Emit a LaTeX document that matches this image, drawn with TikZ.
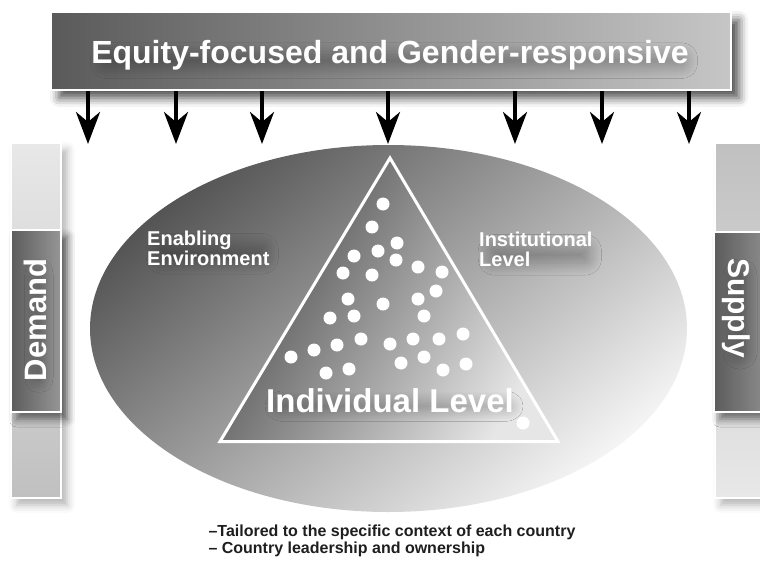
\documentclass[tikz,border=0pt]{standalone}
\usepackage{fontspec}
\setmainfont{Liberation Sans}
\usetikzlibrary{arrows.meta,shadows.blur}

\definecolor{bandark}{HTML}{5A5A5A}
\definecolor{banlight}{HTML}{C6C6C6}
\definecolor{ovaldark}{HTML}{555555}
\definecolor{ovallight}{HTML}{F4F4F4}
\definecolor{tridark}{HTML}{4A4A4A}
\definecolor{trimid}{HTML}{6A6A6A}
\definecolor{trilight}{HTML}{E6E6E6}
\definecolor{barlight}{HTML}{E8E8E8}
\definecolor{bardark}{HTML}{C0C0C0}
\definecolor{boxdark}{HTML}{5C5C5C}
\definecolor{boxlight}{HTML}{969696}
\definecolor{notetext}{HTML}{1E1E1E}

\tikzset{
  banner/.style={draw=white, line width=2pt, left color=bandark, right color=banlight,
    blur shadow={shadow xshift=8pt, shadow yshift=-8pt, shadow blur radius=9pt, shadow opacity=70}},
  sidebar/.style={draw=white, line width=1.5pt,
    blur shadow={shadow xshift=6pt, shadow yshift=-7pt, shadow blur radius=8pt, shadow opacity=30}},
  sidebox/.style={draw=white, line width=1.5pt, left color=boxdark, right color=boxlight,
    blur shadow={shadow xshift=6pt, shadow yshift=-7pt, shadow blur radius=8pt, shadow opacity=55}},
  whitelabel/.style={text=white, inner xsep=-7pt, inner ysep=-9pt, rounded corners=4pt,
    blur shadow={shadow xshift=4pt, shadow yshift=-6pt, shadow blur radius=12pt, shadow blur steps=20, shadow opacity=28}},
  downarrow/.style={line width=4pt, -{Stealth[length=32pt, width=24pt, inset=10pt]}},
  dot/.style={white},
}

\begin{document}
\begin{tikzpicture}[x=1pt, y=-1pt]
  \useasboundingbox (0,0) rectangle (760,562);

  % oval
  \shade[top color=ovaldark, bottom color=ovallight, shading angle=40]
    (388.5,328.5) ellipse [x radius=298.5, y radius=183.5];

  % triangle
  \shade[top color=tridark, middle color=trimid, bottom color=trilight, shading angle=60]
    (390,158) -- (558,441.5) -- (220,441.5) -- cycle;
  \draw[white, line width=3pt, line join=miter] (390,158) -- (558,441.5) -- (220,441.5) -- cycle;

  \foreach \p in {(383,204),(372,227),(397,243),(378,251),(354,256),(396,260),
                  (418,267),(442,272),(343,273),(372,275),(436,291),(348,299),
                  (418,299),(383,304),(330,318),(354,316),(424,316),(463,334),
                  (361,339),(390,344),(413,339),(439,339),(337,345),(314,350),
                  (291,357),(424,357),(401,363),(466,364),(349,369),(326,373),
                  (443,370),(523,423)}
    \fill[dot] \p circle (6.5);

  % banner
  \node[banner, minimum width=680pt, minimum height=78pt] (banner) at (391,51) {};
  \node[whitelabel, anchor=base, font=\fontsize{32}{32}\selectfont\bfseries] (bantext) at (390,63) {Equity-focused and Gender-responsive};

  \foreach \x [count=\i] in {88,176,262,388,515,602,689} {
    \coordinate (tip\i) at (\x,144);
    \draw[downarrow] (banner.south -| tip\i) -- (tip\i);
  }

  % side bars
  \node[sidebar, top color=barlight, bottom color=bardark, minimum width=50pt, minimum height=355pt] (dembar) at (36,320.5) {};
  \node[sidebox, minimum width=50pt, minimum height=182pt] (dembox) at (36,321) {};
  \node[whitelabel, rotate=90, font=\fontsize{31}{31}\selectfont\bfseries] (demand) at (35,320) {Demand};

  \node[sidebar, top color=bardark, bottom color=barlight, minimum width=60pt, minimum height=355pt] (supbar) at (745,320.5) {};
  \node[sidebox, minimum width=62pt, minimum height=180pt] (supbox) at (745,322) {};
  \node[whitelabel, rotate=-90, font=\fontsize{30}{30}\selectfont\bfseries] (supply) at (736,308) {Supply};

  % levels
  \node[whitelabel, anchor=base west, align=left, font=\fontsize{20}{20}\selectfont\bfseries] (enabling) at (154,265) {Enabling\\Environment};
  \node[whitelabel, anchor=base west, align=left, font=\fontsize{20}{20}\selectfont\bfseries] (institutional) at (486,266) {Institutional\\Level};
  \node[whitelabel, anchor=base, font=\fontsize{33}{33}\selectfont\bfseries] (individual) at (390,412) {Individual Level};

  % notes
  \node[anchor=base west, align=left, text=notetext, font=\fontsize{16}{17}\selectfont\bfseries] (notes) at (205,553)
    {--Tailored to the specific context of each country\\-- Country leadership and ownership};
\end{tikzpicture}
\end{document}
